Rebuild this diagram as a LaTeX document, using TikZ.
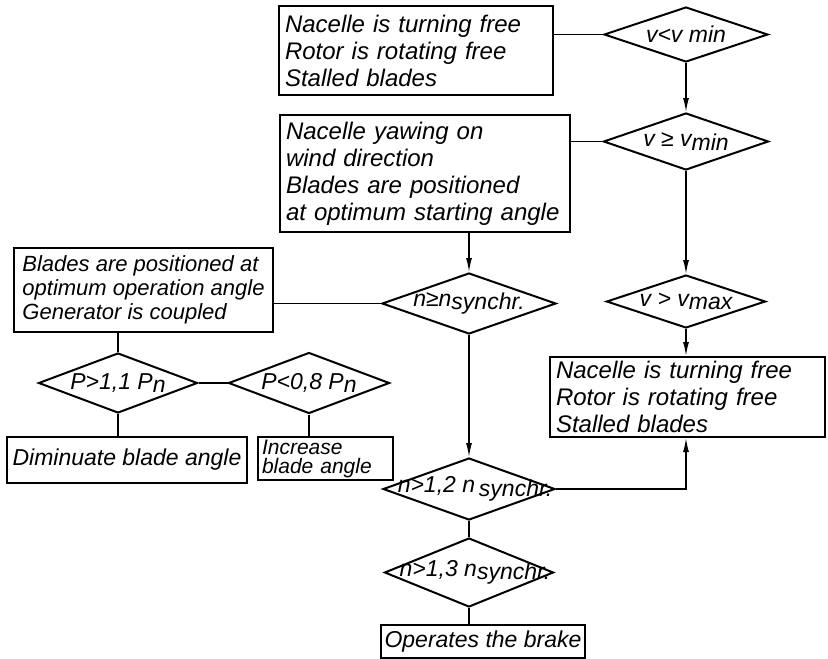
\documentclass[tikz,border=0pt]{standalone}
\usepackage{fontspec}
\setmainfont{Liberation Sans}
\usetikzlibrary{shapes.geometric,arrows.meta}
\newcommand{\lowr}[1]{\raisebox{-0.15em}{#1}}
\begin{document}
\begin{tikzpicture}[x=1pt,y=-1pt,
  box/.style={draw, line width=2pt, inner xsep=6pt, inner ysep=0pt, align=left,
    font=\fontsize{24}{27}\selectfont\itshape},
  sbox/.style={draw, line width=2pt, inner xsep=4pt, inner ysep=0pt,
    font=\fontsize{23}{25}\selectfont\itshape},
  dia/.style={draw, diamond, line width=2pt, inner sep=0pt},
  dtext/.style={font=\fontsize{23}{25}\selectfont\itshape, inner sep=0pt},
  conn/.style={line width=1.4pt},
  arr/.style={conn, -{Latex[length=14pt,width=6pt]}}]
\useasboundingbox (0,0) rectangle (828,659);
\fill[white] (0,0) rectangle (828,659);

% boxes
\node[box, text width=262pt, minimum height=89pt] (A) at (416,50.5)
  {Nacelle is turning free\\Rotor is rotating free\\Stalled blades};
\node[box, text width=278pt, minimum height=117pt] (B) at (425,173.5)
  {Nacelle yawing on\\ wind direction\\Blades are positioned\\at optimum starting angle};
\node[box, inner xsep=4pt, minimum width=259pt, minimum height=84pt,
  font=\fontsize{22}{24}\selectfont\itshape] (C) at (143.5,290)
  {Blades are positioned at\\optimum operation angle\\Generator is coupled};
\node[sbox, minimum width=240pt, minimum height=46pt] (E) at (127,460)
  {Diminuate blade angle};
\node[box, inner xsep=4pt, text width=127pt, minimum height=43pt, font=\fontsize{21}{19}\selectfont\itshape] (F) at (325.5,458.5)
  {Increase\\blade angle};
\node[box, text width=263pt, minimum height=80pt] (G) at (687.5,397)
  {Nacelle is turning free\\Rotor is rotating free\\Stalled blades};
\node[sbox, minimum width=200pt, minimum height=33pt] (H) at (483,641.5)
  {Operates the brake};

% diamonds
\node[dia, minimum width=164pt, minimum height=55pt] (d1) at (686,34.5) {};
\node[dtext] (t1) at (d1) {v<v min};
\node[dia, minimum width=165pt, minimum height=57pt] (d2) at (686,141.5) {};
\node[dtext] (t2) at (d2) {v ≥ v\lowr{min}};
\node[dia, minimum width=174pt, minimum height=61pt] (d3) at (469,303.5) {};
\node[dtext] (t3) at (d3) {n≥n\lowr{synchr.}};
\node[dia, minimum width=159pt, minimum height=53pt] (d7) at (686,301.5) {};
\node[dtext] (t7) at (d7) {v > v\lowr{max}};
\node[dia, minimum width=159pt, minimum height=60pt] (d4) at (118,383) {};
\node[dtext] (t4) at (d4) {P>1,1 P\lowr{n}};
\node[dia, minimum width=161pt, minimum height=61pt] (d5) at (309,383) {};
\node[dtext] (t5) at (d5) {P<0,8 P\lowr{n}};
\node[dia, minimum width=172pt, minimum height=62pt] (d6) at (469,489) {};
\node[dtext] (t6) at ([xshift=6pt]d6.center) {n>1,2 n\,\lowr{synchr.}};
\node[dia, minimum width=169pt, minimum height=69pt] (d8) at (469,572.5) {};
\node[dtext] (t8) at ([xshift=6pt]d8.center) {n>1,3 n\lowr{synchr.}};

% connectors
\draw[conn] (A.east |- d1.west) -- (d1.west);
\draw[arr] (d1.south) -- (d2.north);
\draw[conn] (B.east |- d2.west) -- (d2.west);
\draw[arr] (d2.south) -- (d7.north);
\draw[arr] (d7.south) -- (d7.south |- G.north);
\draw[arr] (d3.north |- B.south) -- (d3.north);
\draw[conn] (C.east |- d3.west) -- (d3.west);
\draw[conn] (d4.north |- C.south) -- (d4.north);
\draw[conn] (d4.east) -- (d5.west);
\draw[conn] (d4.south) -- (d4.south |- E.north);
\draw[conn] (d5.south) -- (d5.south |- F.north);
\draw[arr] (d3.south) -- (d6.north);
\draw[arr] (d6.east) -| (G.south -| d7.south);
\draw[conn] (d6.south) -- (d8.north);
\draw[conn] (d8.south) -- (d8.south |- H.north);
\end{tikzpicture}
\end{document}
